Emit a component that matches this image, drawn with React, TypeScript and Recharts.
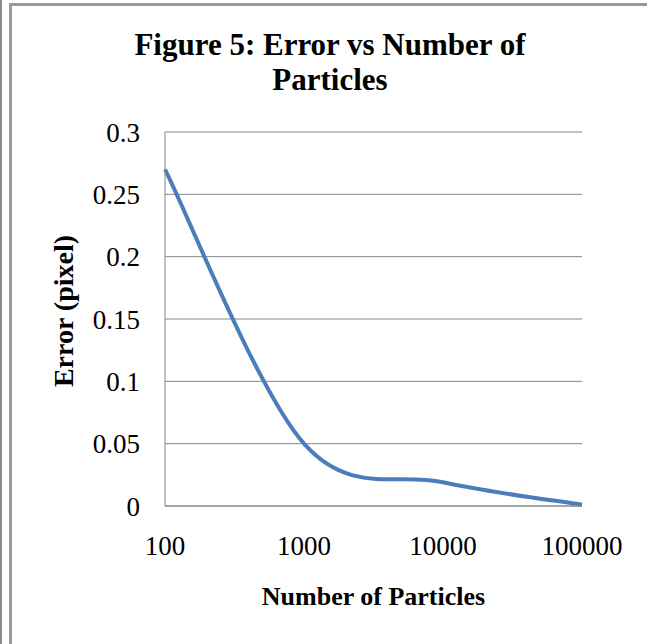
import { LineChart, Line, XAxis, YAxis, CartesianGrid, Label } from "recharts"

const particleCounts = ["100", "1000", "10000", "100000"]
const errorValues = [0.27, 0.05, 0.019, 0.001]
const yTicks = [0, 0.05, 0.1, 0.15, 0.2, 0.25, 0.3]

const data = particleCounts.map((n, i) => ({ n, error: errorValues[i] }))

const serif = "'Liberation Serif', 'Times New Roman', serif"
const gridColor = "#868686"

// Excel-style smoothed line (Catmull-Rom through the points)
const excelSmooth = (context: any) => {
    let xs: number[] = []
    let ys: number[] = []
    return {
        areaStart() {},
        areaEnd() {},
        lineStart() {
            xs = []
            ys = []
        },
        point(x: number, y: number) {
            xs.push(+x)
            ys.push(+y)
        },
        lineEnd() {
            const n = xs.length
            if (!n) return
            context.moveTo(xs[0], ys[0])
            for (let i = 0; i < n - 1; i++) {
                const p = Math.max(i - 1, 0)
                const q = Math.min(i + 2, n - 1)
                context.bezierCurveTo(
                    xs[i] + (xs[i + 1] - xs[p]) / 6,
                    ys[i] + (ys[i + 1] - ys[p]) / 6,
                    xs[i + 1] - (xs[q] - xs[i]) / 6,
                    ys[i + 1] - (ys[q] - ys[i]) / 6,
                    xs[i + 1],
                    ys[i + 1]
                )
            }
        },
    }
}

export default function App() {
    return (
        <div style={{ position: "absolute", left: 0, top: 0, width: 647, height: 644, background: "#fff", overflow: "hidden" }}>
            <div style={{ position: "absolute", left: 0, top: 0, width: 2, height: 644, background: "#8a8a8a" }} />
            <div
                style={{
                    position: "absolute",
                    left: 9,
                    top: 3,
                    width: 660,
                    height: 660,
                    borderLeft: "3px solid #999",
                    borderTop: "3px solid #999",
                }}
            />
            <div
                style={{
                    position: "absolute",
                    left: 0,
                    top: 27,
                    width: 660,
                    textAlign: "center",
                    fontFamily: serif,
                    fontWeight: "bold",
                    fontSize: 31,
                    lineHeight: "35px",
                    color: "#000",
                }}
            >
                Figure 5: Error vs Number of
                <br />
                Particles
            </div>
            <div style={{ position: "absolute", left: 0, top: 0 }}>
                <LineChart width={647} height={644} data={data} margin={{ top: 132, right: 65, bottom: 0, left: 0 }}>
                    <CartesianGrid vertical={false} stroke={gridColor} strokeWidth={1} />
                    <XAxis
                        dataKey="n"
                        height={138}
                        stroke={gridColor}
                        tickLine={false}
                        tickSize={0}
                        tickMargin={30}
                        tick={{ fill: "#000", fontSize: 27, fontFamily: serif }}
                        interval={0}
                    >
                        <Label
                            value="Number of Particles"
                            position="insideTop"
                            offset={81}
                            style={{ fill: "#000", fontSize: 26, fontWeight: "bold", fontFamily: serif }}
                        />
                    </XAxis>
                    <YAxis
                        width={165}
                        domain={[0, 0.3]}
                        ticks={yTicks}
                        stroke={gridColor}
                        tickLine={false}
                        tickSize={0}
                        tickMargin={25}
                        tick={{ fill: "#000", fontSize: 27, fontFamily: serif }}
                    >
                        <Label
                            value="Error (pixel)"
                            angle={-90}
                            position="insideLeft"
                            offset={63}
                            dy={-8}
                            style={{ textAnchor: "middle", fill: "#000", fontSize: 28, fontWeight: "bold", fontFamily: serif }}
                        />
                    </YAxis>
                    <Line
                        type={excelSmooth as any}
                        dataKey="error"
                        stroke="#4a7ebb"
                        strokeWidth={4}
                        dot={false}
                        activeDot={false}
                        isAnimationActive={false}
                    />
                </LineChart>
            </div>
        </div>
    )
}
